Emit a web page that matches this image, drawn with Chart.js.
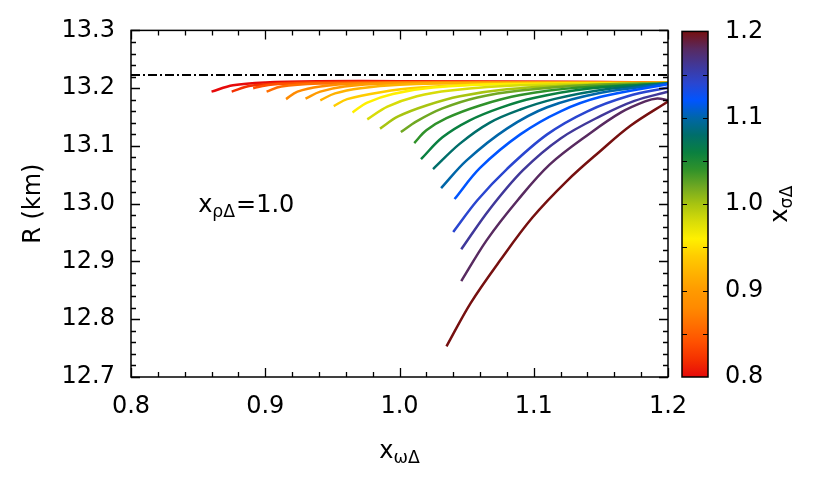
<!DOCTYPE html>
<html>
<head>
<meta charset="utf-8">
<script src="https://cdn.jsdelivr.net/npm/chart.js@4.4.1/dist/chart.umd.min.js"></script>
<style>
  html, body { margin: 0; padding: 0; background: #fff; }
  #wrap { position: relative; width: 830px; height: 498px; }
  #wrap canvas { position: absolute; left: 0; top: 0; }
</style>
</head>
<body>
<div id="wrap">
  <canvas id="chartRadius" width="830" height="498"></canvas>
  <canvas id="chartScale" width="830" height="498"></canvas>
</div>
<script>
// R vs x_omegaDelta, one curve per x_sigmaDelta value

const sigmaValues = [0.80, 0.82, 0.84, 0.86, 0.88, 0.90, 0.92, 0.94, 0.96, 0.98, 1.00,
                     1.02, 1.04, 1.06, 1.08, 1.10, 1.12, 1.14, 1.16, 1.18, 1.20];

const curveColors = ['#e60a0a', '#f43000', '#ff5000', '#ff6e00', '#ff8a00', '#ff9a00',
                     '#ffb200', '#ffcc00', '#fff000', '#d8dc08', '#a8c410', '#70a822',
                     '#30922a', '#0a8040', '#006e6a', '#0066a8', '#0055ff', '#2a46d0',
                     '#40389a', '#582a60', '#761010'];

// [x_omegaDelta, R (km)]
const curvePoints = [
  [[0.860, 13.194], [0.876, 13.205], [0.900, 13.210], [0.940, 13.212], [1.000, 13.212], [1.100, 13.211], [1.200, 13.210]],
  [[0.875, 13.194], [0.889, 13.204], [0.915, 13.209], [0.960, 13.211], [1.050, 13.211], [1.200, 13.210]],
  [[0.891, 13.200], [0.904, 13.206], [0.935, 13.209], [0.990, 13.210], [1.200, 13.210]],
  [[0.901, 13.194], [0.912, 13.203], [0.940, 13.208], [1.000, 13.210], [1.200, 13.210]],
  [[0.9155, 13.181], [0.924, 13.194], [0.941, 13.203], [0.970, 13.208], [1.030, 13.210], [1.200, 13.209]],
  [[0.930, 13.182], [0.941, 13.194], [0.959, 13.203], [0.993, 13.208], [1.050, 13.209], [1.200, 13.209]],
  [[0.941, 13.179], [0.952, 13.191], [0.971, 13.200], [1.000, 13.206], [1.060, 13.209], [1.200, 13.209]],
  [[0.951, 13.169], [0.961, 13.181], [0.986, 13.193], [1.015, 13.201], [1.070, 13.207], [1.200, 13.209]],
  [[0.965, 13.158], [0.976, 13.175], [0.995, 13.190], [1.025, 13.201], [1.080, 13.207], [1.200, 13.209]],
  [[0.976, 13.146], [0.991, 13.168], [1.013, 13.186], [1.038, 13.196], [1.090, 13.205], [1.200, 13.209]],
  [[0.9855, 13.130], [0.999, 13.151], [1.020, 13.170], [1.045, 13.186], [1.080, 13.198], [1.130, 13.205], [1.200, 13.209]],
  [[1.001, 13.124], [1.013, 13.143], [1.032, 13.165], [1.058, 13.184], [1.090, 13.196], [1.140, 13.205], [1.200, 13.209]],
  [[1.011, 13.105], [1.020, 13.127], [1.035, 13.148], [1.060, 13.170], [1.090, 13.188], [1.134, 13.201], [1.200, 13.208]],
  [[1.016, 13.077], [1.032, 13.115], [1.052, 13.144], [1.075, 13.166], [1.100, 13.183], [1.140, 13.199], [1.200, 13.208]],
  [[1.025, 13.060], [1.045, 13.104], [1.067, 13.140], [1.090, 13.163], [1.115, 13.181], [1.150, 13.197], [1.200, 13.208]],
  [[1.031, 13.027], [1.050, 13.075], [1.080, 13.130], [1.110, 13.167], [1.150, 13.192], [1.200, 13.208]],
  [[1.041, 13.008], [1.060, 13.062], [1.090, 13.120], [1.120, 13.160], [1.150, 13.185], [1.200, 13.207]],
  [[1.040, 12.951], [1.058, 13.006], [1.080, 13.060], [1.110, 13.120], [1.140, 13.160], [1.170, 13.186], [1.200, 13.201]],
  [[1.046, 12.921], [1.067, 12.990], [1.092, 13.058], [1.120, 13.113], [1.150, 13.152], [1.175, 13.178], [1.200, 13.194]],
  [[1.046, 12.866], [1.065, 12.937], [1.088, 13.006], [1.112, 13.068], [1.142, 13.122], [1.165, 13.158], [1.183, 13.177], [1.192, 13.182], [1.200, 13.179]],
  [[1.035, 12.753], [1.053, 12.828], [1.075, 12.902], [1.099, 12.976], [1.125, 13.040], [1.149, 13.090], [1.172, 13.135], [1.200, 13.177]]
];

const refRadius = 13.223; // dash-dot line
const xTicks = [0.8, 0.9, 1.0, 1.1, 1.2];
const yTicks = [12.7, 12.8, 12.9, 13.0, 13.1, 13.2, 13.3];
const scaleTicks = [0.8, 0.9, 1.0, 1.1, 1.2];

const FONT = '"DejaVu Sans", "Liberation Sans", sans-serif';
const SIZE = 24;

// text with subscripts: parts = [[text, isSub], ...]
function drawParts(ctx, parts, x, y, size, align) {
  const subSize = size * 0.72;
  const widths = parts.map(([t, s]) => {
    ctx.font = `${s ? subSize : size}px ${FONT}`;
    return ctx.measureText(t).width;
  });
  const total = widths.reduce((a, b) => a + b, 0);
  let cx = align === 'center' ? x - total / 2 : x;
  ctx.textAlign = 'left';
  ctx.textBaseline = 'alphabetic';
  ctx.fillStyle = '#000';
  parts.forEach(([t, s], i) => {
    ctx.font = `${s ? subSize : size}px ${FONT}`;
    ctx.fillText(t, cx, s ? y + size * 0.21 : y);
    cx += widths[i] + (s ? 1 : 0);
  });
}

// box, inward ticks on all sides, axis titles and note
const frame = {
  id: 'frame',
  afterDraw(chart) {
    const { ctx, chartArea: a, scales: { x, y } } = chart;
    ctx.save();
    ctx.strokeStyle = '#000';
    ctx.lineWidth = 1.3;
    ctx.beginPath();
    for (let i = 0; i <= 20; i++) {
      const px = Math.round(x.getPixelForValue(0.8 + i * 0.02)) + 0.5;
      const len = i % 5 === 0 ? 9 : 5;
      ctx.moveTo(px, a.bottom); ctx.lineTo(px, a.bottom - len);
      ctx.moveTo(px, a.top); ctx.lineTo(px, a.top + len);
    }
    for (let i = 0; i <= 30; i++) {
      const py = Math.round(y.getPixelForValue(12.7 + i * 0.02)) + 0.5;
      const len = i % 5 === 0 ? 9 : 5;
      ctx.moveTo(a.left, py); ctx.lineTo(a.left + len, py);
      ctx.moveTo(a.right, py); ctx.lineTo(a.right - len, py);
    }
    ctx.stroke();
    ctx.lineWidth = 1.5;
    ctx.strokeRect(a.left, a.top, a.right - a.left, a.bottom - a.top);

    drawParts(ctx, [['x', false], ['ρΔ', true], ['=1.0', false]],
      x.getPixelForValue(0.85), y.getPixelForValue(12.985), SIZE, 'left');
    drawParts(ctx, [['x', false], ['ωΔ', true]], (a.left + a.right) / 2, 458, SIZE, 'center');

    ctx.translate(40, (a.top + a.bottom) / 2);
    ctx.rotate(-Math.PI / 2);
    drawParts(ctx, [['R (km)', false]], 0, 0, SIZE, 'center');
    ctx.restore();
  }
};

const datasets = curvePoints.map((pts, i) => ({
  label: 'x_sigmaDelta = ' + sigmaValues[i].toFixed(2),
  data: pts.map(([px, py]) => ({ x: px, y: py })),
  showLine: true,
  borderColor: curveColors[i],
  borderWidth: 2.5,
  pointRadius: 0,
  tension: 0.35,
  order: curvePoints.length - i
}));
datasets.push({
  label: 'reference',
  data: [{ x: 0.8, y: refRadius }, { x: 1.2, y: refRadius }],
  showLine: true,
  borderColor: '#000',
  borderWidth: 2,
  borderDash: [9, 3, 2, 3],
  pointRadius: 0,
  order: 0
});

new Chart(document.getElementById('chartRadius'), {
  type: 'scatter',
  data: { datasets },
  options: {
    responsive: false,
    animation: false,
    layout: { padding: { left: 0, top: 30, right: 162, bottom: 0 } },
    plugins: { legend: { display: false }, tooltip: { enabled: false } },
    scales: {
      x: {
        type: 'linear', min: 0.8, max: 1.2,
        grid: { display: false, drawTicks: false },
        border: { display: false },
        ticks: { padding: 15, color: '#000', font: { family: FONT, size: SIZE }, callback: v => v.toFixed(1) },
        afterBuildTicks: s => { s.ticks = xTicks.map(v => ({ value: v })); },
        afterFit: s => { s.height = 121; }
      },
      y: {
        type: 'linear', min: 12.7, max: 13.3,
        grid: { display: false, drawTicks: false },
        border: { display: false },
        ticks: { padding: 16, color: '#000', font: { family: FONT, size: SIZE }, callback: v => v.toFixed(1) },
        afterBuildTicks: s => { s.ticks = yTicks.map(v => ({ value: v })); },
        afterFit: s => { s.width = 131; }
      }
    }
  },
  plugins: [frame]
});

// Colour bar
const barFrame = {
  id: 'barFrame',
  afterDraw(chart) {
    const { ctx, chartArea: a, scales: { y } } = chart;
    ctx.save();
    ctx.strokeStyle = '#000';
    ctx.lineWidth = 1.2;
    ctx.beginPath();
    for (let i = 1; i < 8; i++) {
      const py = Math.round(y.getPixelForValue(0.8 + i * 0.05)) + 0.5;
      ctx.moveTo(a.left, py); ctx.lineTo(a.left + 5, py);
      ctx.moveTo(a.right, py); ctx.lineTo(a.right - 5, py);
    }
    ctx.stroke();
    ctx.lineWidth = 1.5;
    ctx.strokeRect(a.left, a.top, a.right - a.left, a.bottom - a.top);
    ctx.translate(787, (a.top + a.bottom) / 2);
    ctx.rotate(-Math.PI / 2);
    drawParts(ctx, [['x', false], ['σΔ', true]], 0, 0, SIZE, 'center');
    ctx.restore();
  }
};

new Chart(document.getElementById('chartScale'), {
  type: 'bar',
  data: {
    labels: ['scale'],
    datasets: [{
      data: [[sigmaValues[0], sigmaValues[sigmaValues.length - 1]]],
      borderWidth: 0,
      barPercentage: 1,
      categoryPercentage: 1,
      backgroundColor: (c) => {
        const chart = c.chart;
        if (!chart.chartArea) return curveColors[0];
        const y = chart.scales.y;
        const y0 = y.getPixelForValue(0.8), y1 = y.getPixelForValue(1.2);
        const g = chart.ctx.createLinearGradient(0, y0, 0, y1);
        sigmaValues.forEach((v, i) => g.addColorStop((v - 0.8) / 0.4, curveColors[i]));
        return g;
      }
    }]
  },
  options: {
    responsive: false,
    animation: false,
    layout: { padding: { left: 682, top: 30, right: 0, bottom: 121 } },
    plugins: { legend: { display: false }, tooltip: { enabled: false } },
    scales: {
      x: { display: false },
      y: {
        position: 'right', min: 0.8, max: 1.2,
        grid: { display: false, drawTicks: false },
        border: { display: false },
        ticks: { padding: 17, color: '#000', font: { family: FONT, size: SIZE }, callback: v => v.toFixed(1) },
        afterBuildTicks: s => { s.ticks = scaleTicks.map(v => ({ value: v })); },
        afterFit: s => { s.width = 122; }
      }
    }
  },
  plugins: [barFrame]
});
</script>
</body>
</html>
